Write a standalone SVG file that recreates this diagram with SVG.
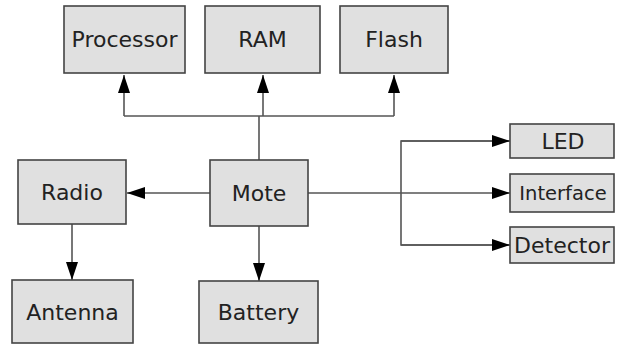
<svg xmlns="http://www.w3.org/2000/svg" width="619" height="345" viewBox="0 0 619 345">
<defs>
<style>
.box{fill:#e0e0e0;stroke:#444;stroke-width:1.6}
.lbl{font-family:"DejaVu Sans",sans-serif;font-size:22px;fill:#222;text-anchor:middle}
.ln{fill:none;stroke:#555;stroke-width:1.6}
.ar{marker-end:url(#ah)}
</style>
<marker id="ah" markerUnits="userSpaceOnUse" markerWidth="18" markerHeight="12" refX="18" refY="6" orient="auto">
<path d="M0,0 L18,6 L0,12 z" fill="#000"/>
</marker>
</defs>
<rect width="619" height="345" fill="#fff"/>
<g id="connectors">
<path class="ln" d="M259,160 V116 M124,116 H394"/>
<path class="ln ar" d="M124,116 V75"/>
<path class="ln ar" d="M263,116 V75"/>
<path class="ln ar" d="M394,116 V75"/>
<path class="ln ar" d="M210,193 H127"/>
<path class="ln ar" d="M72,224 V280"/>
<path class="ln ar" d="M259,226 V281"/>
<path class="ln ar" d="M308,193 H510"/>
<path class="ln ar" d="M510,141 H401 V245 H510" style="marker-end:none"/>
<path class="ln ar" d="M401,141 H510"/>
<path class="ln ar" d="M401,245 H510"/>
</g>
<g id="processor"><rect class="box" x="64" y="6" width="121" height="67"/><text class="lbl" x="124.5" y="47">Processor</text></g>
<g id="ram"><rect class="box" x="205" y="6" width="115" height="67"/><text class="lbl" x="262.5" y="47">RAM</text></g>
<g id="flash"><rect class="box" x="340" y="6" width="108" height="67"/><text class="lbl" x="394" y="47">Flash</text></g>
<g id="radio"><rect class="box" x="18" y="160" width="108" height="64"/><text class="lbl" x="72" y="200">Radio</text></g>
<g id="mote"><rect class="box" x="210" y="160" width="98" height="66"/><text class="lbl" x="259" y="201">Mote</text></g>
<g id="antenna"><rect class="box" x="12" y="280" width="121" height="63"/><text class="lbl" x="72.5" y="320">Antenna</text></g>
<g id="battery"><rect class="box" x="199" y="281" width="119" height="62"/><text class="lbl" x="258.5" y="320">Battery</text></g>
<g id="led"><rect class="box" x="510" y="124" width="104" height="34"/><text class="lbl" x="563" y="149">LED</text></g>
<g id="interface"><rect class="box" x="510" y="174" width="104" height="38"/><text class="lbl" x="563" y="200" style="font-size:19.5px">Interface</text></g>
<g id="detector"><rect class="box" x="510" y="227" width="104" height="36"/><text class="lbl" x="562" y="253">Detector</text></g>
</svg>
